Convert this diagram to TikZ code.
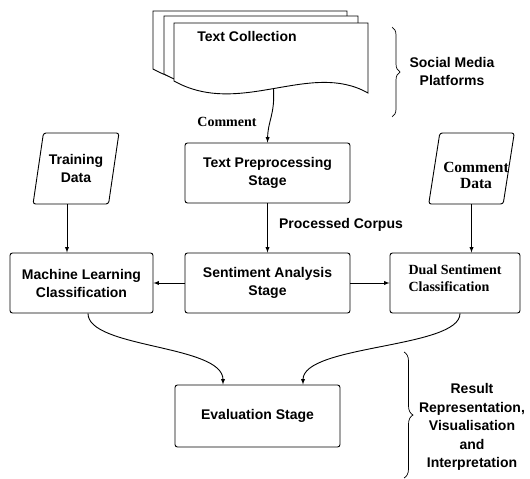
\documentclass[tikz,border=0pt]{standalone}
\usepackage{fontspec}
\setmainfont{Liberation Sans}
\newfontfamily\timesbf{Liberation Serif}
\usepackage{tikz}
\tikzset{>=latex}
\usetikzlibrary{shapes.geometric,decorations.pathreplacing}

% one page of the document stack
\newcommand{\docpage}{\draw[fill=white] (174,23) -- (368,23) -- (368,93)
    .. controls (310,60) and (240,118) .. (174,81) -- cycle;}

\begin{document}
\begin{tikzpicture}[x=1pt, y=-1pt, line width=0.9pt,
    lbl/.style={font=\bfseries\fontsize{14}{18}\selectfont, align=center},
    seriflbl/.style={font=\timesbf\bfseries\fontsize{13.5}{18}\selectfont, align=center},
    stagebox/.style={lbl, draw, rounded corners=2.5pt, minimum height=60pt},
    databox/.style={draw, trapezium, trapezium left angle=76, trapezium right angle=104,
        trapezium stretches=true, rounded corners=2.5pt, minimum width=86pt,
        minimum height=71pt, inner xsep=0pt, align=center}]
    \useasboundingbox (0,0) rectangle (530,479);

    % Draw the document stack
    \begin{scope}[shift={(-21,-12)}] \docpage \end{scope}
    \begin{scope}[shift={(-10,-7)}] \docpage \end{scope}
    \docpage
    \node[lbl] (coll) at (247,36) {Text Collection};
    \coordinate (docend) at (273.5,88.5);

    % Draw the stages
    \node[stagebox, minimum width=165pt] (prep) at (267.5,173) {Text Preprocessing\\Stage};
    \node[stagebox, minimum width=165pt] (sa) at (267.5,283) {Sentiment Analysis\\Stage};
    \node[stagebox, minimum width=143pt] (ml) at (81.5,283) {Machine Learning\\Classification};
    \node[stagebox, minimum width=130pt,
        label={[seriflbl, font=\timesbf\bfseries\fontsize{14}{17.5}\selectfont, align=left, yshift=5pt]center:{Dual Sentiment\\Classification}}]
        (dual) at (455,283) {};
    \node[stagebox, minimum width=165pt, minimum height=62pt] (eval) at (257.5,416) {Evaluation Stage};

    % Draw the data inputs
    \node[databox, lbl] (train) at (76,168.5) {Training\\Data};
    \node[databox, text width=55pt, text height=11pt, text depth=21pt,
        label={[seriflbl, font=\timesbf\bfseries\fontsize{15.5}{16.5}\selectfont, xshift=4.5pt, yshift=-7pt]center:{Comment\\Data}}]
        (cdata) at (471.5,168.5) {};

    % Draw the arrows
    \draw[->] (docend) .. controls (275,115) and (268,120) .. (prep.north);
    \node[seriflbl, font=\timesbf\bfseries\fontsize{14}{18}\selectfont] (cmt) at (227,122) {Comment};
    \draw[->] (prep) -- (sa);
    \node[lbl] (corpus) at (341,225) {Processed Corpus};
    \draw[->] (sa) -- (ml);
    \draw[->] (sa) -- (dual);
    \draw[->] ([xshift=-9pt]train.south) -- ([xshift=-9pt]train.south |- ml.north);
    \draw[->] (cdata.south) -- (cdata.south |- dual.north);
    \draw[->] ([xshift=6.5pt]ml.south) .. controls +(0,35) and +(0,-40) .. ([xshift=-34.5pt]eval.north);
    \draw[->] ([xshift=5pt]dual.south) .. controls +(0,35) and +(0,-40) .. ([xshift=45.5pt]eval.north);

    % Draw the braces
    \draw[line width=0.7pt, decorate, decoration={brace, amplitude=8pt}] (392,27) -- (392,117);
    \node[lbl] (smp) at (452,71) {Social Media\\Platforms};
    \draw[line width=0.7pt, decorate, decoration={brace, amplitude=9pt}] (404,352) -- (404,478);
    \node[lbl, font=\bfseries\fontsize{14}{18.5}\selectfont] (res) at (472,427)
        {Result\\Representation,\\Visualisation\\and\\Interpretation};
\end{tikzpicture}
\end{document}
